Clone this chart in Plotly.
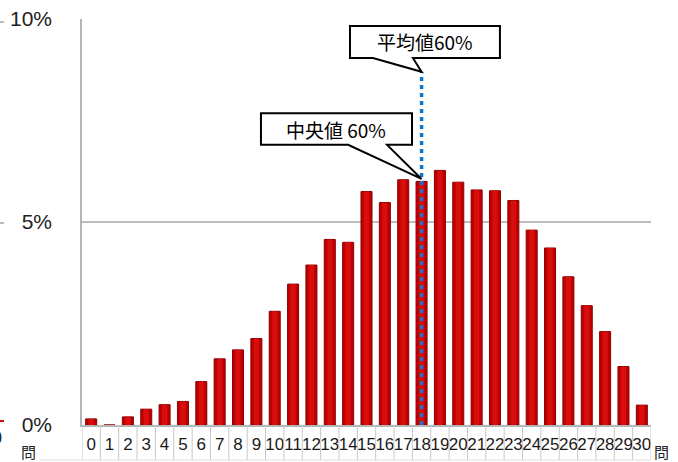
import plotly.graph_objects as go

# Number of correct answers (0-30 questions) and share of examinees (%)
questions = list(range(31))
share_pct = [0.15, 0.0, 0.20, 0.39, 0.50, 0.58, 1.07, 1.63, 1.85, 2.13,
             2.80, 3.47, 3.94, 4.57, 4.50, 5.75, 5.48, 6.04, 6.00, 6.27,
             5.98, 5.79, 5.77, 5.53, 4.80, 4.36, 3.65, 2.94, 2.30, 1.44,
             0.49]
x_tick_labels = [str(q) for q in questions]
y_tick_vals = [0, 5, 10]
y_tick_labels = ["0%", "5%", "10%"]

mean_q = 18      # 60% of 30 questions
median_q = 18
mean_label = "平均値60%"
median_label = "中央値 60%"
unit_label = "問"

W, H = 678, 462
L, R, T, B = 82, 27, 19, 37
PW, PH = W - L - R, H - T - B


def px_x(px):
    return (px - L) / PW


def px_y(py):
    return (H - B - py) / PH


fig = go.Figure()

fig.add_trace(go.Bar(
    x=questions, y=share_pct, width=0.6,
    marker=dict(color="#C00000", line=dict(color="#880000", width=1)),
    hoverinfo="x+y", showlegend=False,
))
# lighter core of each column for a rounded look
fig.add_trace(go.Bar(
    x=questions, y=share_pct, width=0.28,
    marker=dict(color="#D80E0E", line=dict(width=0)),
    hoverinfo="skip", showlegend=False,
))

mean_top = 8.7
fig.add_trace(go.Scatter(
    x=[mean_q, mean_q], y=[0, mean_top], mode="lines",
    line=dict(color="#0A78D0", width=3.5, dash="4px,4px"),
    hoverinfo="skip", showlegend=False,
))

shapes = []
# category cells below the axis
for q in questions + [questions[-1] + 1]:
    b = q - 0.5
    shapes.append(dict(type="line", xref="x", yref="paper",
                       x0=b, x1=b, y0=0, y1=px_y(460),
                       line=dict(color="#C8C8C8", width=1)))
shapes.append(dict(type="line", xref="paper", yref="paper",
                   x0=px_x(40), x1=px_x(651), y0=px_y(460), y1=px_y(460),
                   line=dict(color="#DDDDDD", width=1)))


def callout(x0, x1, y0, y1, tail_l, tail_r, tip_x, tip_y):
    path = (f"M {x0},{y1} L {x1},{y1} L {x1},{y0} L {tail_r},{y0} "
            f"L {tip_x},{tip_y} L {tail_l},{y0} L {x0},{y0} Z")
    return dict(type="path", xref="x", yref="y", path=path,
                fillcolor="white", line=dict(color="black", width=2))


shapes.append(callout(14.1, 22.27, 9.04, 9.83, 15.35, 17.53, mean_q, mean_top))
shapes.append(callout(9.25, 17.48, 6.90, 7.68, 14.0, 16.12,
                      median_q, share_pct[median_q] + 0.06))

# small marks at the left edge
for py, col in [(22, "#BBBBBB"), (223, "#BBBBBB"), (421, "#D01010")]:
    shapes.append(dict(type="line", xref="paper", yref="paper",
                       x0=px_x(0), x1=px_x(4), y0=px_y(py), y1=px_y(py),
                       line=dict(color=col, width=2)))

cjk = "Noto Sans CJK JP"
sans = "Liberation Sans Narrow, Liberation Sans"
annotations = [
    dict(x=(14.1 + 22.27) / 2, y=(9.04 + 9.83) / 2, xref="x", yref="y",
         text=mean_label, showarrow=False,
         font=dict(family=cjk, size=19, color="black")),
    dict(x=(9.25 + 17.48) / 2, y=(6.90 + 7.68) / 2, xref="x", yref="y",
         text=median_label, showarrow=False,
         font=dict(family=cjk, size=19, color="black")),
    dict(x=px_x(661), y=px_y(451), xref="paper", yref="paper",
         xanchor="center", yanchor="middle",
         text=unit_label, showarrow=False,
         font=dict(family=cjk, size=15, color="#222222")),
    dict(x=px_x(28), y=px_y(451), xref="paper", yref="paper",
         xanchor="center", yanchor="middle",
         text=unit_label, showarrow=False,
         font=dict(family=cjk, size=15, color="#222222")),
    dict(x=px_x(4), y=px_y(438), xref="paper", yref="paper",
         xanchor="right", yanchor="middle", text="0", showarrow=False,
         font=dict(family=sans, size=18, color="#222222")),
]

fig.update_layout(
    width=W, height=H,
    margin=dict(l=L, r=R, t=T, b=B, pad=0, autoexpand=False),
    paper_bgcolor="white", plot_bgcolor="white",
    barmode="overlay",
    shapes=shapes, annotations=annotations,
    showlegend=False,
)
fig.update_xaxes(
    range=[-0.5, 30.5], tickmode="array",
    tickvals=questions, ticktext=x_tick_labels,
    tickangle=0, automargin=False,
    showgrid=False, zeroline=False, ticks="",
    showline=True, linecolor="#B5B5B5", linewidth=1.5,
    tickfont=dict(family=sans, size=17, color="#1A1A1A"),
    ticklabelstandoff=3,
)
fig.update_yaxes(
    range=[0, 10], tickmode="array",
    tickvals=y_tick_vals, ticktext=y_tick_labels,
    automargin=False,
    showgrid=True, gridcolor="#BDBDBD", gridwidth=1.5,
    zeroline=False, ticks="",
    showline=True, linecolor="#B5B5B5", linewidth=1.5,
    tickfont=dict(family="Liberation Sans", size=21, color="#222222"),
    ticklabelstandoff=24,
)

fig.write_html("out.html")
